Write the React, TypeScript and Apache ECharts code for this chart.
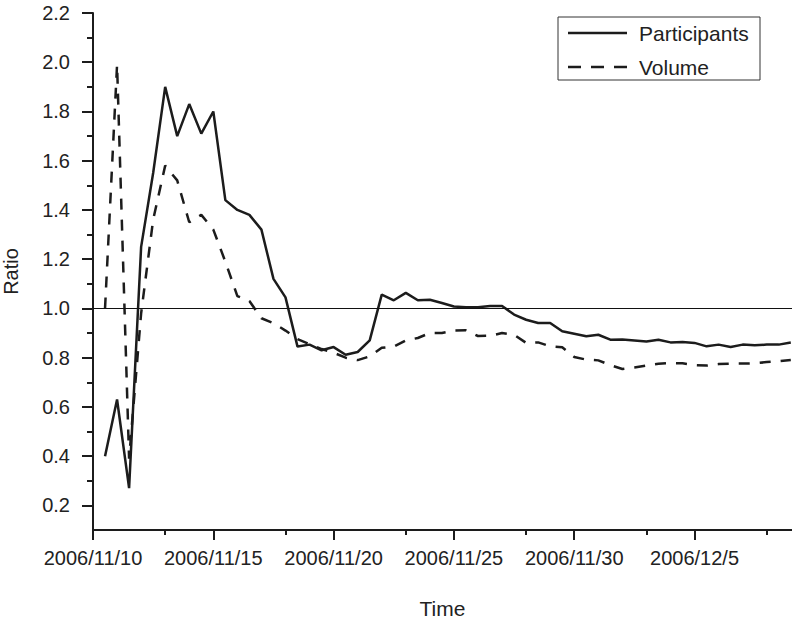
import React, { useEffect, useRef } from "react";
import * as echarts from "echarts";

// Ratios sampled every 12 hours, starting 2006/11/10 12:00 (day offset 0.5)
const START_DATE = new Date(2006, 10, 10);
const FIRST_SAMPLE_DAY = 0.5;
const SAMPLE_STEP_DAYS = 0.5;

const participants = [
  0.4, 0.63, 0.27, 1.25, 1.55, 1.9, 1.7, 1.83, 1.71, 1.8,
  1.44, 1.4, 1.38, 1.32, 1.12, 1.045, 0.845, 0.853, 0.83, 0.843,
  0.812, 0.823, 0.87, 1.056, 1.033, 1.063, 1.033, 1.035, 1.022, 1.008,
  1.005, 1.005, 1.01, 1.01, 0.975, 0.954, 0.941, 0.941, 0.907, 0.897,
  0.887, 0.893, 0.873, 0.874, 0.87, 0.866, 0.873, 0.862, 0.864, 0.86,
  0.846, 0.853, 0.843, 0.853, 0.85, 0.853, 0.853, 0.862,
];

const volume = [
  1.0, 1.99, 0.39, 0.98, 1.36, 1.58, 1.52, 1.35, 1.38, 1.32,
  1.19, 1.05, 1.03, 0.96, 0.94, 0.91, 0.875, 0.855, 0.835, 0.82,
  0.8, 0.79, 0.805, 0.84, 0.845, 0.87, 0.88, 0.9, 0.9, 0.91,
  0.911, 0.888, 0.889, 0.9, 0.893, 0.86, 0.862, 0.846, 0.842, 0.803,
  0.792, 0.789, 0.77, 0.754, 0.76, 0.768, 0.775, 0.778, 0.777, 0.77,
  0.768, 0.774, 0.776, 0.776, 0.777, 0.782, 0.786, 0.791,
];

// Axis ticks (x in days since 2006/11/10)
const xMajorTicks = [0, 5, 10, 15, 20, 25];
const xMinorTicks = [3, 8, 13, 18, 23, 28];
const yMajorTicks = [0.2, 0.4, 0.6, 0.8, 1.0, 1.2, 1.4, 1.6, 1.8, 2.0, 2.2];
const yMinorTicks = [0.3, 0.5, 0.7, 0.9, 1.1, 1.3, 1.5, 1.7, 1.9, 2.1];
const referenceRatio = 1.0;

const X_MIN = 0;
const X_MAX = 29.05;
const Y_MIN = 0.1;
const Y_MAX = 2.2;

const FONT = "'Liberation Sans', Arial, Helvetica, sans-serif";
const INK = "#1c1c1c";
const TEXT = "#222222";
const LINE_W = 2.5;
const SERIES_DASH = [11, 10];
const LEGEND_DASH = [13, 10];

function dayLabel(day: number): string {
  const d = new Date(START_DATE.getTime() + Math.round(day) * 86400000);
  return `${d.getFullYear()}/${d.getMonth() + 1}/${d.getDate()}`;
}

function toPairs(values: number[]): [number, number][] {
  return values.map((v, i) => [FIRST_SAMPLE_DAY + i * SAMPLE_STEP_DAYS, v]);
}

// Boxed legend: a line sample followed by the series name
function legendGraphic() {
  const box = { x: 558, y: 17, w: 202, h: 63 };
  const rows = [
    { name: "Participants", y: 33, dash: null as number[] | null },
    { name: "Volume", y: 67, dash: LEGEND_DASH },
  ];
  const children: any[] = [
    {
      type: "rect",
      shape: { x: box.x, y: box.y, width: box.w, height: box.h },
      style: { fill: "#ffffff", stroke: "#333333", lineWidth: 1 },
    },
  ];
  rows.forEach((r) => {
    children.push({
      type: "line",
      shape: { x1: 568, y1: r.y, x2: 627, y2: r.y },
      style: {
        stroke: INK,
        lineWidth: LINE_W,
        lineDash: r.dash || undefined,
      },
    });
    children.push({
      type: "text",
      x: 639,
      y: r.y,
      style: {
        text: r.name,
        fill: TEXT,
        fontSize: 21,
        fontFamily: FONT,
        verticalAlign: "middle",
        align: "left",
      },
    });
  });
  return { type: "group", z: 100, children };
}

export default function App() {
  const ref = useRef<HTMLDivElement>(null);

  useEffect(() => {
    if (!ref.current) return;
    const chart = echarts.init(ref.current, undefined, { renderer: "svg" });

    const hiddenAxisBits = {
      axisLine: { show: false },
      axisLabel: { show: false },
      splitLine: { show: false },
    };

    chart.setOption({
      animation: false,
      backgroundColor: "#ffffff",
      textStyle: { fontFamily: FONT },
      grid: {
        left: 93,
        right: 0,
        top: 13,
        bottom: 92,
        containLabel: false,
        outerBoundsMode: "none",
      },
      graphic: [legendGraphic()],
      xAxis: [
        {
          type: "value",
          min: X_MIN,
          max: X_MAX,
          name: "Time",
          nameLocation: "middle",
          nameGap: 68,
          nameTextStyle: { fontSize: 21, color: TEXT, fontFamily: FONT },
          axisLine: { show: true, onZero: false, lineStyle: { color: INK, width: 2 } },
          axisTick: {
            show: true,
            inside: false,
            length: 10,
            customValues: xMajorTicks,
            lineStyle: { color: INK, width: 2 },
          },
          axisLabel: {
            show: true,
            customValues: xMajorTicks,
            margin: 18,
            fontSize: 20,
            color: TEXT,
            fontFamily: FONT,
            formatter: (v: number) => dayLabel(v),
          },
          splitLine: { show: false },
        },
        {
          type: "value",
          min: X_MIN,
          max: X_MAX,
          position: "bottom",
          ...hiddenAxisBits,
          axisTick: {
            show: true,
            length: 5,
            customValues: xMinorTicks,
            lineStyle: { color: INK, width: 2 },
          },
        },
      ],
      yAxis: [
        {
          type: "value",
          min: Y_MIN,
          max: Y_MAX,
          name: "Ratio",
          nameLocation: "middle",
          nameGap: 72,
          nameRotate: 90,
          nameTextStyle: { fontSize: 20, color: TEXT, fontFamily: FONT },
          axisLine: { show: true, onZero: false, lineStyle: { color: INK, width: 2 } },
          axisTick: {
            show: true,
            length: 11,
            customValues: yMajorTicks,
            lineStyle: { color: INK, width: 2 },
          },
          axisLabel: {
            show: true,
            customValues: yMajorTicks,
            margin: 23,
            fontSize: 20,
            color: TEXT,
            fontFamily: FONT,
            formatter: (v: number) => v.toFixed(1),
          },
          splitLine: { show: false },
        },
        {
          type: "value",
          min: Y_MIN,
          max: Y_MAX,
          position: "left",
          ...hiddenAxisBits,
          axisTick: {
            show: true,
            length: 6,
            customValues: yMinorTicks,
            lineStyle: { color: INK, width: 2 },
          },
        },
      ],
      series: [
        {
          name: "Participants",
          type: "line",
          data: toPairs(participants),
          symbol: "none",
          showSymbol: false,
          lineStyle: { color: INK, width: LINE_W, type: "solid" },
          itemStyle: { color: INK },
          z: 3,
          markLine: {
            silent: true,
            symbol: ["none", "none"],
            label: { show: false },
            lineStyle: { color: "#111111", width: 1, type: "solid" },
            data: [{ yAxis: referenceRatio }],
          },
        },
        {
          name: "Volume",
          type: "line",
          data: toPairs(volume),
          symbol: "none",
          showSymbol: false,
          lineStyle: { color: INK, width: LINE_W, type: SERIES_DASH },
          itemStyle: { color: INK },
          z: 2,
        },
      ],
    });

    return () => chart.dispose();
  }, []);

  return (
    <div
      ref={ref}
      style={{ position: "absolute", left: 0, top: 0, width: 792, height: 622 }}
    />
  );
}
